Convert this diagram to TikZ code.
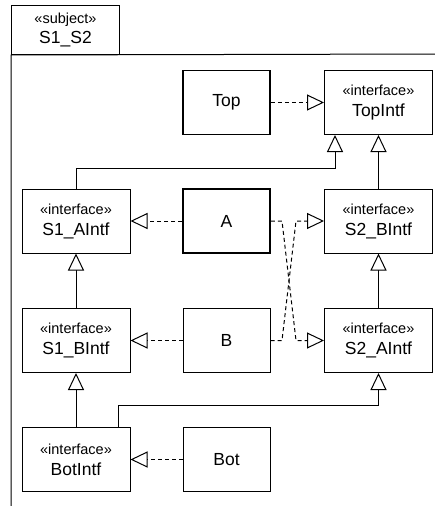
\documentclass[tikz,border=0pt]{standalone}
\usepackage{fontspec}
\setmainfont{Liberation Sans}
\usetikzlibrary{arrows.meta}
\begin{document}
\begin{tikzpicture}[x=1pt,y=-1pt,
  box/.style={draw, line width=1pt, minimum width=108pt, minimum height=64pt, inner sep=0pt, align=center, font=\fontsize{17.5}{21}\selectfont},
  cls/.style={box, minimum width=87pt},
  bold/.style={line width=1.8pt},
  gen/.style={line width=1pt, -{Triangle[open, length=17pt, width=16pt, fill=white]}},
  real/.style={gen, dash pattern=on 4pt off 3pt},
]
\newcommand{\stereo}[1]{{\fontsize{14.5}{17}\selectfont #1}}
\useasboundingbox (0,0) rectangle (435,506);
% frame
\node[draw, line width=1pt, minimum width=108pt, minimum height=49pt, inner sep=0pt, align=center, anchor=north west, font=\fontsize{17.5}{20}\selectfont] (tab) at (11,5) {\stereo{«subject»}\\S1\_S2};
\coordinate (fr) at (436,54);
\coordinate (fb) at (11,506);
\draw[line width=1pt] (fr) -- (tab.south west) -- (fb);
% nodes
\node[cls, bold] (top) at (226.5,102.5) {Top};
\node[box] (topintf) at (378.5,102.5) {\stereo{«interface»}\\TopIntf};
\node[box] (s1a) at (76,221) {\stereo{«interface»}\\S1\_AIntf};
\node[cls, bold] (a) at (226.5,221) {A};
\node[box] (s2b) at (378.5,221) {\stereo{«interface»}\\S2\_BIntf};
\node[box] (s1b) at (76,340.5) {\stereo{«interface»}\\S1\_BIntf};
\node[cls] (b) at (226.5,340.5) {B};
\node[box] (s2a) at (378.5,340.5) {\stereo{«interface»}\\S2\_AIntf};
\node[box] (bot) at (76,459.5) {\stereo{«interface»}\\BotIntf};
\node[cls] (botc) at (226.5,459.5) {Bot};
% generalizations
\draw[gen] (s1a.north) |- (335,168) -- ([xshift=-43.5pt]topintf.south);
\draw[gen] (s2b.north) -- (topintf.south);
\draw[gen] (s1b.north) -- (s1a.south);
\draw[gen] (s2a.north) -- (s2b.south);
\draw[gen] (bot.north) -- (s1b.south);
\draw[gen] ([xshift=42pt]bot.north) |- (378.5,405) -- (s2a.south);
% realizations
\draw[real] (top.east) -- (topintf.west);
\draw[real] (a.west) -- (s1a.east);
\draw[real] (b.west) -- (s1b.east);
\draw[real] (botc.west) -- (bot.east);
\draw[real] (a.east) -- (282,221) -- (296,340.5) -- (s2a.west);
\draw[real] (b.east) -- (282,340.5) -- (296,221) -- (s2b.west);
\end{tikzpicture}
\end{document}
